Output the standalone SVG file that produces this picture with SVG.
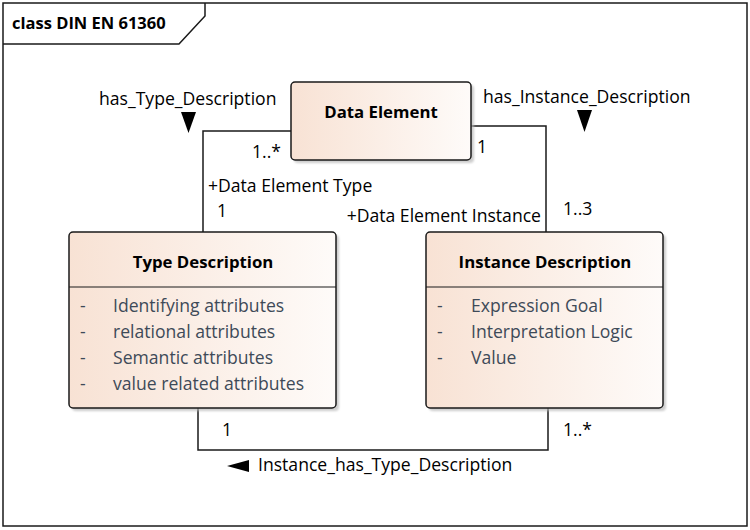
<svg xmlns="http://www.w3.org/2000/svg" width="750" height="530" viewBox="0 0 750 530">
  <defs>
    <linearGradient id="boxFill" x1="0" y1="0" x2="1" y2="0">
      <stop offset="0" stop-color="#f8e2d4"/>
      <stop offset="1" stop-color="#fefbf9"/>
    </linearGradient>
    <filter id="blur" x="-10%" y="-10%" width="130%" height="130%">
      <feGaussianBlur stdDeviation="1"/>
    </filter>
  </defs>
  <style>
    .frame { fill: none; stroke: #1a1a1a; stroke-width: 1.5; }
    .shadow { fill: #b8b8b8; opacity: 0.7; }
    .box { fill: url(#boxFill); stroke: #1a1a1a; stroke-width: 1.5; }
    .sep { stroke: #1a1a1a; stroke-width: 1.2; }
    .conn { fill: none; stroke: #1a1a1a; stroke-width: 1.5; }
    .arrow { fill: #000; }
    .title { font-family: "Open Sans", "Liberation Sans", sans-serif; font-size: 16.5px; font-weight: bold; fill: #000; }
    .name { font-family: "Open Sans", "Liberation Sans", sans-serif; font-size: 16.8px; font-weight: bold; fill: #000; text-anchor: middle; }
    .attr { font-family: "Open Sans", "Liberation Sans", sans-serif; font-size: 17.6px; fill: #3e4a58; }
    .lbl { font-family: "Open Sans", "Liberation Sans", sans-serif; font-size: 17.6px; fill: #000; }
  </style>
  <rect width="750" height="530" fill="#ffffff"/>

  <g id="frame">
    <rect class="frame" x="3" y="3" width="744" height="523"/>
    <path class="frame" d="M3,44 H179 L205,16 V3"/>
    <text class="title" x="12" y="29">class DIN EN 61360</text>
  </g>

  <g id="connectors">
    <path class="conn" d="M291,131 H203 V232"/>
    <path class="conn" d="M471,126 H546 V232"/>
    <path class="conn" d="M198,408 V450 H548 V408"/>
    <polygon class="arrow" points="181,112 196,112 188.5,133"/>
    <polygon class="arrow" points="577,110 592,110 584.5,132"/>
    <polygon class="arrow" points="249,460 249,472 227,466"/>
    <text class="lbl" x="99" y="105">has_Type_Description</text>
    <text class="lbl" x="252" y="158">1..*</text>
    <text class="lbl" x="208" y="192">+Data Element Type</text>
    <text class="lbl" x="217" y="217">1</text>
    <text class="lbl" x="483" y="103">has_Instance_Description</text>
    <text class="lbl" x="477" y="153">1</text>
    <text class="lbl" x="541" y="222" text-anchor="end">+Data Element Instance</text>
    <text class="lbl" x="563" y="215">1..3</text>
    <text class="lbl" x="222" y="436">1</text>
    <text class="lbl" x="563" y="436">1..*</text>
    <text class="lbl" x="258" y="471">Instance_has_Type_Description</text>
  </g>

  <g id="data-element">
    <rect class="shadow" x="294" y="85" width="180" height="78" rx="4" filter="url(#blur)"/>
    <rect class="box" x="291" y="82" width="180" height="78" rx="4"/>
    <text class="name" x="381" y="118">Data Element</text>
  </g>

  <g id="type-description">
    <rect class="shadow" x="72" y="235" width="267" height="176" rx="4" filter="url(#blur)"/>
    <rect class="box" x="69" y="232" width="267" height="176" rx="4"/>
    <line class="sep" x1="69" y1="287" x2="336" y2="287"/>
    <text class="name" x="203" y="268">Type Description</text>
    <text class="attr" x="80" y="312">-</text>
    <text class="attr" x="113" y="312">Identifying attributes</text>
    <text class="attr" x="80" y="338">-</text>
    <text class="attr" x="113" y="338">relational attributes</text>
    <text class="attr" x="80" y="364">-</text>
    <text class="attr" x="113" y="364">Semantic attributes</text>
    <text class="attr" x="80" y="390">-</text>
    <text class="attr" x="113" y="390">value related attributes</text>
  </g>

  <g id="instance-description">
    <rect class="shadow" x="429" y="235" width="237" height="176" rx="4" filter="url(#blur)"/>
    <rect class="box" x="426" y="232" width="237" height="176" rx="4"/>
    <line class="sep" x1="426" y1="287" x2="663" y2="287"/>
    <text class="name" x="545" y="268">Instance Description</text>
    <text class="attr" x="437" y="312">-</text>
    <text class="attr" x="471" y="312">Expression Goal</text>
    <text class="attr" x="437" y="338">-</text>
    <text class="attr" x="471" y="338">Interpretation Logic</text>
    <text class="attr" x="437" y="364">-</text>
    <text class="attr" x="471" y="364">Value</text>
  </g>
</svg>
